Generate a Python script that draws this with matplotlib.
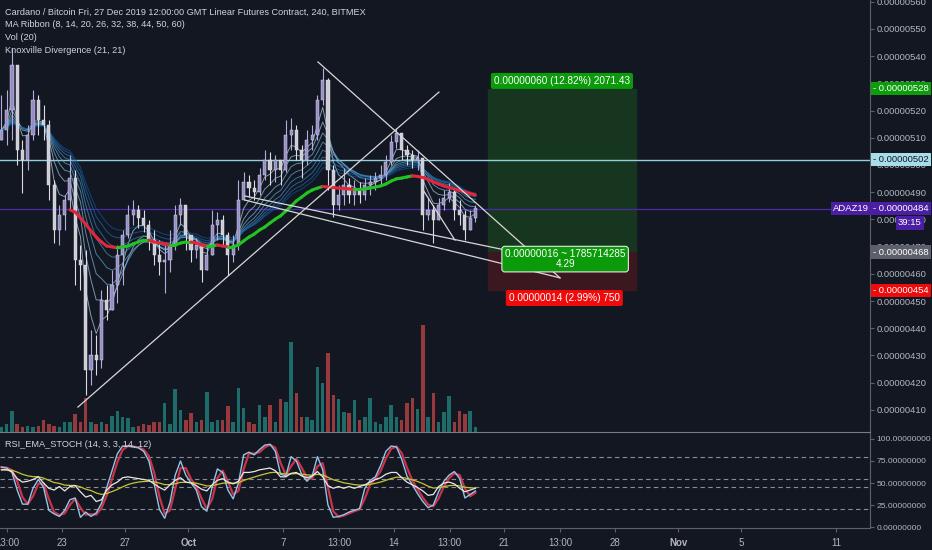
import numpy as np
import pandas as pd
import matplotlib
matplotlib.use('Agg')
import matplotlib.pyplot as plt
from matplotlib.collections import LineCollection
from matplotlib.transforms import blended_transform_factory

plt.rcParams['font.family'] = ['Liberation Sans', 'DejaVu Sans']

# 价格单位: 1e-8 BTC (satoshi)
first_open = 509.2
closes = [512.9, 520.2, 536.8, 505.5, 501.8, 511.0, 523.9, 516.5, 514.7, 492.6,
          476.1, 481.6, 487.1, 495.2, 465.1, 463.2, 424.6, 430.2, 428.3, 450.4,
          446.7, 455.9, 466.9, 474.3, 481.6, 483.5, 480.5, 477.9, 472.4, 466.9,
          464.3, 465.1, 470.6, 481.6, 485.3, 474.3, 468.8, 470.6, 461.4, 466.9,
          477.9, 479.8, 474.3, 466.9, 470.6, 487.1, 493.8, 491.5, 490.1, 496.3,
          501.8, 498.2, 501.8, 498.2, 511.0, 512.9, 505.5, 501.8, 509.2, 511.0,
          523.9, 531.2, 498.2, 485.3, 489.0, 492.6, 489.0, 490.8, 489.0, 492.6,
          493.8, 495.2, 496.3, 501.1, 508.5, 511.8, 505.5, 503.7, 501.8, 502.6,
          481.6, 483.5, 479.8, 485.3, 487.9, 490.1, 483.5, 481.6, 476.1, 480.5,
          484.2]
highs = [525.7, 527.6, 543.0, 534.9, 509.2, 514.7, 527.6, 525.7, 522.1, 516.5,
         494.5, 485.3, 489.0, 503.7, 498.2, 470.6, 468.8, 439.3, 437.5, 454.0,
         455.9, 461.4, 470.6, 476.1, 485.3, 487.1, 485.3, 483.5, 479.8, 476.1,
         472.4, 470.6, 476.1, 485.3, 487.9, 481.6, 474.3, 473.2, 470.6, 470.6,
         483.5, 482.7, 481.6, 475.4, 474.3, 494.5, 497.4, 496.3, 494.5, 498.9,
         505.5, 504.8, 503.7, 501.8, 516.5, 517.3, 514.7, 507.4, 512.9, 514.7,
         525.7, 535.7, 532.0, 500.0, 492.6, 498.9, 495.2, 494.5, 493.8, 495.2,
         496.3, 497.4, 500.0, 503.7, 511.0, 513.6, 511.0, 507.4, 505.5, 505.5,
         502.6, 487.9, 485.3, 487.9, 490.8, 493.4, 490.8, 487.1, 483.5, 483.5,
         485.3]
lows = [509.2, 507.4, 509.2, 500.0, 489.7, 498.2, 509.2, 511.0, 509.2, 487.1,
        471.3, 470.6, 476.1, 483.5, 455.9, 454.0, 415.4, 419.1, 422.8, 425.4,
        443.0, 450.4, 449.3, 455.9, 473.2, 477.9, 476.8, 475.4, 468.8, 463.2,
        459.6, 452.9, 460.7, 468.8, 477.9, 468.8, 464.3, 465.8, 457.0, 463.2,
        468.8, 472.4, 470.6, 459.6, 464.3, 468.8, 487.1, 488.2, 487.1, 489.0,
        494.5, 492.6, 493.8, 492.6, 497.4, 505.5, 501.8, 495.2, 500.0, 505.5,
        509.2, 522.1, 490.8, 480.9, 483.5, 485.3, 486.0, 485.3, 486.0, 487.1,
        489.0, 490.8, 492.6, 494.5, 500.0, 506.2, 501.8, 500.0, 498.9, 498.2,
        476.1, 479.8, 471.3, 481.6, 483.5, 486.4, 479.8, 477.9, 472.4, 476.8,
        479.0]
volumes = [5, 8, 21, 8, 5, 6, 5, 6, 12, 8,
           6, 5, 10, 10, 18, 10, 34, 10, 8, 10,
           8, 16, 21, 15, 14, 5, 6, 8, 7, 10,
           10, 29, 8, 43, 22, 12, 19, 10, 12, 40,
           10, 12, 12, 26, 10, 44, 24, 10, 8, 27,
           15, 27, 10, 33, 30, 90, 39, 15, 15, 12,
           65, 49, 79, 37, 33, 20, 19, 32, 12, 15,
           34, 10, 8, 15, 27, 15, 12, 29, 34, 23,
           107, 15, 39, 10, 20, 36, 10, 21, 18, 21,
           5]
# MA Ribbon 最慢的那条 (粗线), 从第13根K线开始
slow_ma_start = 13
slow_ma = [483.5, 482.7, 480.5, 478.3, 475.7, 473.5, 471.7, 470.2, 469.9, 469.5,
           469.9, 470.2, 471.0, 471.7, 472.4, 472.4, 471.7, 471.3, 471.0, 470.6,
           470.6, 471.3, 471.7, 471.7, 471.3, 470.6, 470.2, 470.2, 470.6, 470.2,
           469.9, 469.9, 470.6, 472.1, 473.5, 474.6, 476.1, 477.2, 478.7, 480.1,
           481.3, 483.1, 484.9, 486.8, 488.2, 489.7, 490.8, 491.5, 492.1, 491.9,
           491.7, 491.5, 491.4, 491.2, 491.0, 491.0, 491.2, 491.5, 491.9, 492.3,
           493.0, 494.1, 494.9, 495.2, 495.6, 496.0, 495.8, 495.4, 494.7, 493.8,
           493.0, 492.3, 491.7, 491.2, 490.6, 490.1, 489.5, 489.0]
ribbon_spans = [4, 7, 10, 13, 16, 19, 22, 25]

# RSI_EMA_STOCH 面板
stoch_k = [68, 67, 62, 42, 26, 26, 44, 54, 45, 19,
           15, 12, 19, 31, 33, 11, 17, 12, 16, 27,
           45, 64, 83, 92, 92, 91, 90, 86, 75, 49,
           20, 10, 28, 59, 75, 59, 50, 42, 23, 18,
           45, 66, 62, 42, 32, 50, 82, 85, 82, 88,
           93, 94, 86, 60, 58, 80, 75, 60, 52, 58,
           80, 65, 25, 11, 12, 14, 17, 19, 21, 44,
           53, 57, 70, 86, 92, 91, 77, 58, 48, 38,
           29, 22, 25, 40, 52, 59, 63, 55, 33, 37,
           41]
rsi_line = [65, 65, 63, 55, 51, 52, 54, 57, 50, 44,
            42, 46, 41, 46, 47, 40, 34, 36, 29, 31,
            42, 48, 51, 56, 57, 56, 55, 54, 53, 49,
            45, 42, 48, 53, 56, 51, 50, 47, 43, 41,
            48, 53, 55, 51, 49, 52, 62, 62, 63, 65,
            66, 67, 64, 57, 57, 61, 62, 58, 56, 58,
            63, 57, 47, 44, 46, 44, 46, 44, 46, 48,
            51, 54, 56, 60, 62, 62, 56, 51, 48, 45,
            41, 36, 37, 46, 50, 51, 49, 44, 40, 42,
            44]
rsi_levels = [80, 55, 45, 20]

# 时间轴 (日期: 9月N日 = N, 10月1日 = 31)
first_bar_day = 19.17
bar_days = 1 / 3
x_ticks = [19.54, 23, 27, 31, 37, 40.54, 44, 47.54, 51, 54.54, 58, 62, 66, 72]
x_labels = ['13:00', '23', '27', 'Oct', '7', '13:00', '14', '13:00', '21', '13:00', '28', 'Nov', '5', '11']

# 画线工具 (日期, 价格)
trend_lines = [((24.01, 411.0), (46.86, 526.8)),
               ((39.20, 537.9), (54.52, 458.5)),
               ((34.58, 488.6), (51.35, 468.4)),
               ((34.58, 487.1), (54.52, 458.5)),
               ((45.86, 490.8), (47.87, 472.4))]
hline_cyan = 502
hline_last = 484
entry, target, stop = 468, 528, 454
pos_start, pos_end = 49.96, 59.33

BG = '#131722'
TXT = '#b2b5be'
AX_LINE = '#5d606b'

n = len(closes)
days = first_bar_day + np.arange(n) * bar_days
closes = np.array(closes)
opens = np.r_[first_open, closes[:-1]]
highs = np.maximum(highs, np.maximum(opens, closes))
lows = np.minimum(lows, np.minimum(opens, closes))
up = closes >= opens

fig = plt.figure(figsize=(9.32, 5.5), dpi=100, facecolor=BG)
W, H = 932, 550
rect_main = [0, 118 / H, 870 / W, 432 / H]
vax = fig.add_axes(rect_main)
ax = fig.add_axes(rect_main)
rsi = fig.add_axes([0, 22 / H, 870 / W, 95 / H])
vax.set_zorder(0)
ax.set_zorder(1)
vax.set_facecolor(BG)
ax.set_facecolor('none')
rsi.set_facecolor(BG)

xmin, xmax = 19.08, 74.14
for a in (vax, ax, rsi):
    a.set_xlim(xmin, xmax)

# 成交量
vax.bar(days, volumes, width=0.22, color=np.where(up, '#26a69a', '#ef5350'), alpha=0.6, linewidth=0)
vax.set_ylim(0, 432)
vax.axis('off')

ax.set_ylim(401.84, 560.66)

# 多空仓位工具
ax.fill_between([pos_start, pos_end], entry, target, color='#17361f', zorder=0)
ax.fill_between([pos_start, pos_end], stop, entry, color='#3b1820', zorder=0)

ax.axhline(hline_cyan, color='#8fd0dc', lw=1, zorder=1)
ax.axhline(hline_last, color='#4a2aa8', lw=0.9, zorder=1)

# MA ribbon 细线
ribbon_cols = plt.cm.Blues(np.linspace(0.3, 0.85, len(ribbon_spans)))
for span, c in zip(ribbon_spans, ribbon_cols):
    ema = pd.Series(closes).ewm(span=span, adjust=False).mean()
    ax.plot(days, ema, color=c, lw=0.7, alpha=0.7, zorder=2)

# K线
wick_col = np.where(up, '#b3acdc', '#dcdce4')
body_col = np.where(up, '#958dc8', '#cdcdd7')
ax.vlines(days, lows, highs, colors=wick_col, lw=0.8, zorder=3)
ax.bar(days, closes - opens, bottom=opens, width=0.2, color=body_col,
       edgecolor='#e6e6ee', linewidth=0.3, zorder=4)

# 粗均线 (涨绿跌红)
ma_days = days[slow_ma_start:]
pts = np.column_stack([ma_days, slow_ma])
segs = np.stack([pts[:-1], pts[1:]], axis=1)
seg_cols = ['#22c322' if b >= a else '#e3263b' for a, b in zip(slow_ma[:-1], slow_ma[1:])]
ax.add_collection(LineCollection(segs, colors=seg_cols, linewidths=2.2, zorder=5, capstyle='round'))

for (x0, y0), (x1, y1) in trend_lines:
    ax.plot([x0, x1], [y0, y1], color='#d8d8d8', lw=0.9, zorder=6)

# 仓位标签
lab = dict(ha='center', va='center', fontsize=7.2, color='white', zorder=9)
ax.text((pos_start + pos_end) / 2, 530.9, '0.00000060 (12.82%) 2071.43',
        bbox=dict(boxstyle='round,pad=0.3,rounding_size=0.2', fc='#0a9a0a', ec='none'), **lab)
ax.text((pos_start + pos_end) / 2 + 0.15, 451.1, '0.00000014 (2.99%) 750',
        bbox=dict(boxstyle='round,pad=0.3,rounding_size=0.2', fc='#ef0b0b', ec='none'), **lab)
ax.text((pos_start + pos_end) / 2 + 0.2, 465.4, '0.00000016 ~ 1785714285\n4.29', linespacing=0.95,
        bbox=dict(boxstyle='round,pad=0.3,rounding_size=0.3', fc='#0a9a0a', ec='#e8e8e8', lw=0.8), **lab)

# 右侧价格轴
ax.yaxis.tick_right()
pticks = np.arange(410, 561, 10)
ax.set_yticks(pticks)
ax.set_yticklabels([f'{v * 1e-8:.8f}' for v in pticks])
ax.tick_params(axis='y', colors=AX_LINE, labelcolor=TXT, labelsize=6.8, length=3, pad=2)
ax.set_xticks([])
for s in ('top', 'left'):
    ax.spines[s].set_visible(False)
ax.spines['right'].set_color(AX_LINE)
ax.spines['bottom'].set_color('#787b86')

tr = blended_transform_factory(ax.transAxes, ax.transData)


def axis_tag(y, text, bg, fg='white', x=1.004):
    ax.text(x, y, text, transform=tr, ha='left', va='center', fontsize=6.8, color=fg,
            bbox=dict(boxstyle='square,pad=0.22', fc=bg, ec='none'), clip_on=False, zorder=12)


axis_tag(target, '- 0.00000528', '#0c9c0c')
axis_tag(hline_cyan, '- 0.00000502', '#a7dde8', fg='#131722')
axis_tag(hline_last, '- 0.00000484', '#4b1fa3')
axis_tag(478.7, '39:15', '#4b1fa3', x=1.032)
axis_tag(entry, '- 0.00000468', '#5d606b')
axis_tag(stop, '- 0.00000454', '#ef0b0b')
ax.text(0.958, hline_last, 'ADAZ19', transform=tr, ha='left', va='center', fontsize=6.8, color='white',
        bbox=dict(boxstyle='square,pad=0.22', fc='#4b1fa3', ec='none'), zorder=12)

# 左上角标题
titles = ['Cardano / Bitcoin Fri, 27 Dec 2019 12:00:00 GMT Linear Futures Contract, 240, BITMEX',
          'MA Ribbon (8, 14, 20, 26, 32, 38, 44, 50, 60)',
          'Vol (20)',
          'Knoxville Divergence (21, 21)']
for k, t in enumerate(titles):
    fig.text(5 / W, 1 - (12 + 12.7 * k) / H, t, fontsize=6.6, color='#d1d4dc', va='center')

# RSI 面板
k_s = pd.Series(stoch_k, dtype=float)
d_s = k_s.rolling(2, min_periods=1).mean()
r_s = pd.Series(rsi_line, dtype=float)
y_s = r_s.ewm(span=8, adjust=False).mean()
for lv in rsi_levels:
    rsi.axhline(lv, color='#8a8d96', lw=0.8, ls=(0, (4, 3)), zorder=1)
rsi.plot(days, d_s, color='#c93248', lw=1.6, zorder=2)
rsi.plot(days, k_s, color='#93c5e8', lw=1.0, zorder=3)
rsi.plot(days, y_s, color='#c6c434', lw=0.9, zorder=4)
rsi.plot(days, r_s, color='#e8e8e8', lw=0.9, zorder=5)
rsi.set_ylim(-1.1, 106.8)
rsi.yaxis.tick_right()
rticks = [0, 25, 50, 75, 100]
rsi.set_yticks(rticks)
rsi.set_yticklabels([f'{v:.8f}' for v in rticks])
rsi.tick_params(axis='y', colors=AX_LINE, labelcolor=TXT, labelsize=6.1, length=3, pad=1.5)
rsi.set_xticks(x_ticks)
rsi.set_xticklabels(x_labels)
rsi.tick_params(axis='x', colors=AX_LINE, labelcolor=TXT, labelsize=7, length=3, pad=4)
for lbl in rsi.get_xticklabels():
    if lbl.get_text() in ('Oct', 'Nov'):
        lbl.set_fontweight('bold')
for s in ('top', 'left'):
    rsi.spines[s].set_visible(False)
rsi.spines['right'].set_color(AX_LINE)
rsi.spines['bottom'].set_color(AX_LINE)
rsi.text(5 / 870, 0.88, 'RSI_EMA_STOCH (14, 3, 3, 14, 12)', transform=rsi.transAxes,
         fontsize=6.6, color='#d1d4dc', va='center')

fig.savefig('out.png', dpi=100, facecolor=BG)
